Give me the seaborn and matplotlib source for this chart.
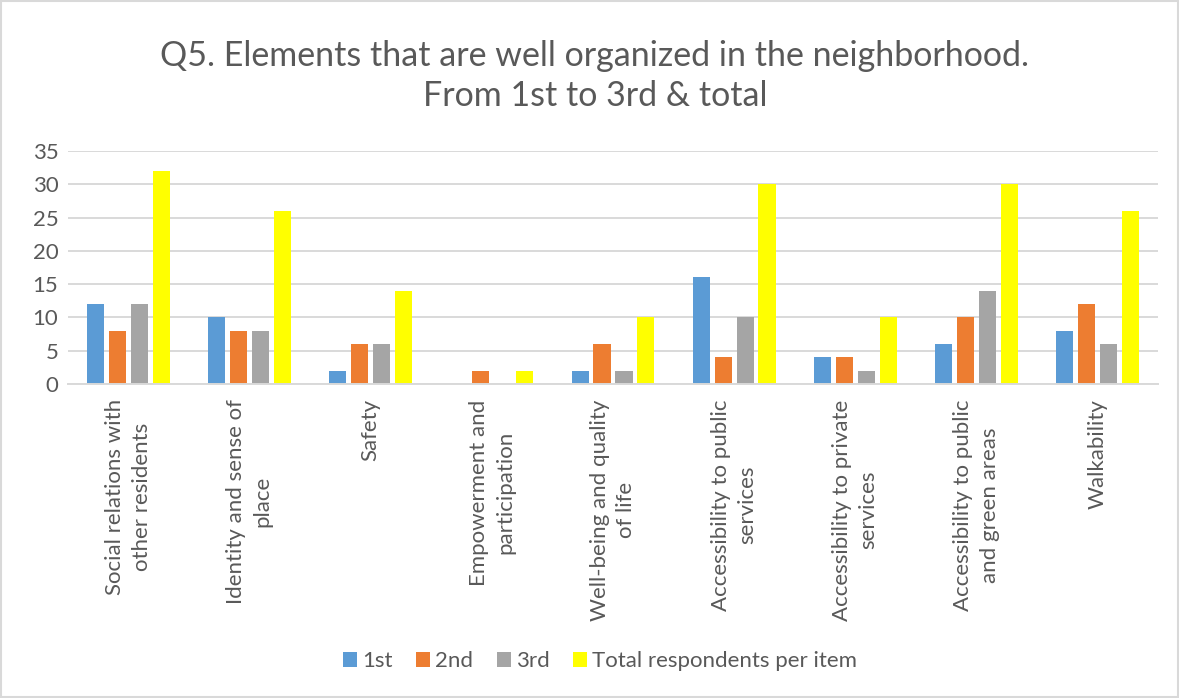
import matplotlib
matplotlib.use("Agg")
import matplotlib.pyplot as plt
from matplotlib.patches import Patch, Rectangle
import pandas as pd
import seaborn as sns

# Survey items (line breaks as shown under each group)
items = [
    "Social relations with\nother residents",
    "Identity and sense of\nplace",
    "Safety",
    "Empowerment and\nparticipation",
    "Well-being and quality\nof life",
    "Accessibility to public\nservices",
    "Accessibility to private\nservices",
    "Accessibility to public\nand green areas",
    "Walkability",
]
series_names = ["1st", "2nd", "3rd", "Total respondents per item"]
first = [12, 10, 2, 0, 2, 16, 4, 6, 8]
second = [8, 8, 6, 2, 6, 4, 4, 10, 12]
third = [12, 8, 6, 0, 2, 10, 2, 14, 6]
total = [32, 26, 14, 2, 10, 30, 10, 30, 26]
y_ticks = [0, 5, 10, 15, 20, 25, 30, 35]

title = ("Q5. Elements that are well organized in the neighborhood.\n"
         "From 1st to 3rd & total")
colors = ["#5B9BD5", "#ED7D31", "#A5A5A5", "#FFFF00"]
text_color = "#595959"
grid_color = "#D9D9D9"

sns.set_theme(style="white")
plt.rcParams["font.family"] = ["Lato", "DejaVu Sans"]

rows = []
for name, values in zip(series_names, [first, second, third, total]):
    for item, v in zip(items, values):
        rows.append({"item": item, "rank": name, "count": v})
df = pd.DataFrame(rows)

fig = plt.figure(figsize=(11.79, 6.98), dpi=100)
ax = fig.add_axes([68 / 1179, 1 - 384 / 698, (1158 - 68) / 1179, (384 - 151) / 698])

sns.barplot(data=df, x="item", y="count", hue="rank", order=items,
            hue_order=series_names, palette=colors, width=0.724, gap=0.22,
            linewidth=0, saturation=1, errorbar=None, legend=False, ax=ax)

ax.set_ylim(0, 35)
ax.set_yticks(y_ticks)
ax.set_xlim(-0.5, len(items) - 0.5)
ax.yaxis.grid(True, color=grid_color, linewidth=1.4)
ax.set_axisbelow(True)
for side in ["top", "right", "left"]:
    ax.spines[side].set_visible(False)
ax.spines["bottom"].set_color(grid_color)
ax.spines["bottom"].set_linewidth(1.4)
ax.set_xlabel("")
ax.set_ylabel("")

ax.tick_params(axis="y", length=0, pad=7, labelsize=16, labelcolor=text_color)
ax.tick_params(axis="x", length=0, pad=11, labelsize=16, labelcolor=text_color)
for lbl in ax.get_xticklabels():
    lbl.set_rotation(90)
    lbl.set_ha("center")
    lbl.set_va("top")
    lbl.set_multialignment("center")
    lbl.set_linespacing(1.4)

fig.text(595 / 1179, 1 - 76 / 698, title, ha="center", va="center",
         fontsize=24.5, color=text_color, linespacing=1.3)

handles = [Patch(facecolor=c, edgecolor="none") for c in colors]
fig.legend(handles, series_names, loc="center", bbox_to_anchor=(600 / 1179, 1 - 661 / 698),
           ncol=4, frameon=False, fontsize=16, labelcolor=text_color,
           handlelength=0.65, handleheight=0.65, handletextpad=0.22,
           columnspacing=1.05)

fig.patches.append(Rectangle((0.0008, 0.0015), 0.9984, 0.997, transform=fig.transFigure,
                             fill=False, edgecolor=grid_color, linewidth=1.5))

fig.savefig("out.png", dpi=100, facecolor="white")
